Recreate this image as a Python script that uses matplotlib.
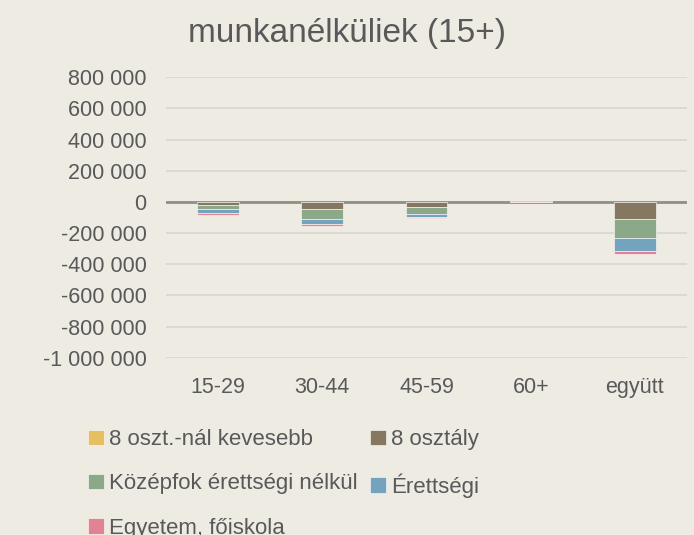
import matplotlib
matplotlib.use('Agg')
import matplotlib.pyplot as plt
import numpy as np

# data (persons)
categories = ['15-29', '30-44', '45-59', '60+', 'együtt']
series_names = ['8 oszt.-nál kevesebb', '8 osztály', 'Középfok érettségi nélkül',
                'Érettségi', 'Egyetem, főiskola']
kevesebb = [0, 0, 0, 0, -2000]
osztaly8 = [-20000, -47000, -34000, 0, -105000]
kozepfok = [-26000, -65000, -41000, 0, -125000]
erettsegi = [-24000, -32000, -24000, 0, -82000]
egyetem = [-13000, -11000, -5000, 9000, -20000]
y_ticks = [800000, 600000, 400000, 200000, 0, -200000, -400000,
           -600000, -800000, -1000000]

colors = ['#E6BF63', '#857760', '#8BA888', '#74A3BD', '#E08392']
bg = '#EEEBE3'
txt = '#595959'
font = ['Liberation Sans', 'DejaVu Sans']

fig = plt.figure(figsize=(6.94, 5.35), dpi=100, facecolor=bg)
ax = fig.add_axes([166 / 694, 1 - 357.7 / 535, 521 / 694, 280.4 / 535], facecolor=bg)

x = np.arange(len(categories))
neg_base = np.zeros(len(categories))
pos_base = np.zeros(len(categories))
handles = []
for vals, name, col in zip([kevesebb, osztaly8, kozepfok, erettsegi, egyetem],
                           series_names, colors):
    v = np.array(vals, dtype=float)
    base = np.where(v < 0, neg_base, pos_base)
    b = ax.bar(x, v, width=0.4, bottom=base, color=col, label=name,
               edgecolor='#ffffff', linewidth=0.4, zorder=3)
    handles.append(b)
    neg_base += np.where(v < 0, v, 0)
    pos_base += np.where(v > 0, v, 0)

ax.set_xlim(-0.5, len(categories) - 0.5)
ax.set_ylim(-1000000, 800000)
ax.set_yticks(y_ticks)
ax.set_yticklabels(['{:,}'.format(t).replace(',', ' ') for t in y_ticks])
ax.set_xticks(x)
ax.set_xticklabels(categories)
ax.grid(axis='y', color='#D9D8D3', linewidth=1.3, zorder=0)
ax.axhline(0, color='#8F8F88', linewidth=2, zorder=2.5)
for s in ax.spines.values():
    s.set_visible(False)
ax.tick_params(length=0, labelsize=15.5, labelcolor=txt)
ax.tick_params(axis='y', pad=14)
ax.tick_params(axis='x', pad=14)
for lab in ax.get_xticklabels() + ax.get_yticklabels():
    lab.set_family(font)

fig.text(0.5, 0.937, 'munkanélküliek (15+)', ha='center', va='center',
         fontsize=24, color=txt, family=font)

# legend is filled column-wise, so reorder for row-wise reading
order = [0, 2, 4, 1, 3]
leg = fig.legend([handles[i] for i in order], [series_names[i] for i in order],
                 ncol=2, loc='upper left', bbox_to_anchor=(88 / 694, 0.198),
                 frameon=False, handlelength=0.7, handleheight=0.7,
                 handletextpad=0.25, columnspacing=0.55, labelspacing=1.05,
                 borderpad=0, borderaxespad=0,
                 prop={'family': font, 'size': 16})
for t in leg.get_texts():
    t.set_color(txt)

plt.savefig('out.png', dpi=100, facecolor=bg)
